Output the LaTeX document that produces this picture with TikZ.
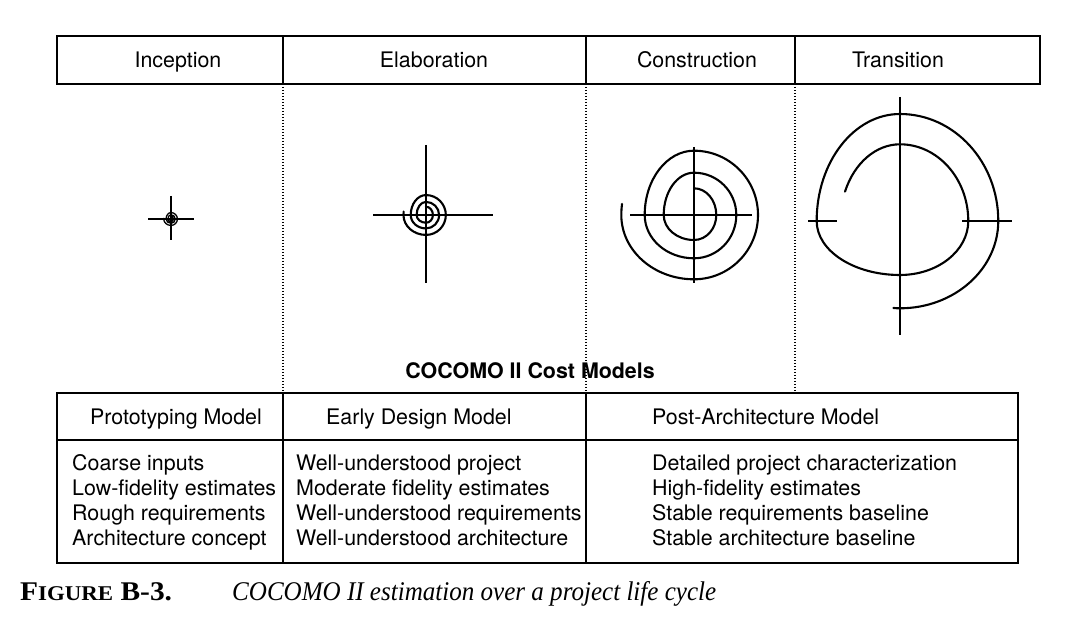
\documentclass[tikz,border=0pt]{standalone}
\usepackage{fontspec}
\setmainfont{TeX Gyre Heros}
\newfontfamily\capfont{Liberation Serif}
\newcommand{\cocspiral}{(0,-26.7)
  arc[start angle=90,end angle=0,x radius=22.3pt,y radius=26.7pt]
  arc[start angle=0,end angle=-90,x radius=22.3pt,y radius=25pt]
  arc[start angle=-90,end angle=-180,x radius=30.3pt,y radius=25pt]
  arc[start angle=180,end angle=90,x radius=30.3pt,y radius=42.3pt]
  arc[start angle=90,end angle=0,x radius=42.3pt,y radius=42.3pt]
  arc[start angle=0,end angle=-90,x radius=42.3pt,y radius=43.3pt]
  arc[start angle=-90,end angle=-180,x radius=49.3pt,y radius=43.3pt]
  arc[start angle=180,end angle=90,x radius=49.3pt,y radius=64.3pt]
  arc[start angle=90,end angle=0,x radius=64pt,y radius=64.3pt]
  arc[start angle=0,end angle=-90,x radius=64pt,y radius=64.3pt]
  arc[start angle=-90,end angle=-180,x radius=72.7pt,y radius=64.3pt]
  arc[start angle=180,end angle=172,x radius=72.7pt,y radius=80pt]}
\begin{document}
\begin{tikzpicture}[x=1pt,y=-1pt,
  frame/.style={line width=1.6pt},
  dotline/.style={line width=1.1pt, dash pattern=on 1.3pt off 1.7pt},
  spiralline/.style={line width=2.1pt, line join=round, line cap=round},
  crossline/.style={line width=1.5pt},
  lbl/.style={font=\fontsize{21.4}{25}\selectfont, inner sep=0pt},
  boldlbl/.style={font=\fontsize{21.4}{25}\selectfont\bfseries, inner sep=0pt},
  captext/.style={font=\fontsize{27}{32}\selectfont\capfont, inner sep=0pt}]
\useasboundingbox (0,0) rectangle (1074,628);
\fill[white] (0,0) rectangle (1074,628);
% top phase box
\draw[frame] (57,36) rectangle (1040,84);
\draw[frame] (283,36) -- (283,84) (586,36) -- (586,84) (795,36) -- (795,84);
\node[lbl, anchor=base] (inc) at (178,68) {Inception};
\node[lbl, anchor=base] (ela) at (434,68) {Elaboration};
\node[lbl, anchor=base] (con) at (697,68) {Construction};
\node[lbl, anchor=base] (tra) at (898,68) {Transition};
% dotted separators
\draw[dotline] (283,84) -- (283,393) (586,84) -- (586,393) (795,84) -- (795,393);
% inception spiral
\draw[crossline] (148,219) -- (194,219) (171,196) -- (171,240);
\begin{scope}[shift={(171,219)}, scale=0.1]
  \draw[line width=1.3pt] \cocspiral;
\end{scope}
% elaboration spiral
\draw[crossline] (373,215) -- (493,215) (426,145) -- (426,283);
\begin{scope}[shift={(426,215)}, scale=0.31]
  \draw[spiralline] \cocspiral;
\end{scope}
% construction spiral
\draw[crossline] (630,215) -- (752,215) (694,147) -- (694,283);
\begin{scope}[shift={(694,215)}]
  \draw[spiralline] \cocspiral;
\end{scope}
% transition spiral
\draw[crossline] (900,97) -- (900,335) (808,221) -- (837,221) (962,221) -- (1012,221);
\begin{scope}[shift={(900,221)}]
  \draw[spiralline] (-55,-29.35)
    arc[start angle=157.5,end angle=90,x radius=59.5pt,y radius=76.7pt]
    arc[start angle=90,end angle=0,x radius=68.3pt,y radius=76.7pt]
    arc[start angle=0,end angle=-90,x radius=68.3pt,y radius=54pt]
    arc[start angle=-90,end angle=-180,x radius=83.3pt,y radius=54pt]
    arc[start angle=180,end angle=90,x radius=83.3pt,y radius=107pt]
    arc[start angle=90,end angle=0,x radius=98.3pt,y radius=107pt]
    arc[start angle=0,end angle=-90,x radius=98.3pt,y radius=87.3pt]
    arc[start angle=-90,end angle=-95,x radius=76pt,y radius=87.3pt];
\end{scope}
\node[boldlbl, anchor=base] (cocomo) at (530,378) {COCOMO II Cost Models};
% bottom model table
\draw[frame] (57,393) rectangle (1018,563);
\draw[frame] (57,440) -- (1018,440) (283,393) -- (283,563) (586,393) -- (586,563);
\node[lbl, anchor=base] (m1) at (176,424) {Prototyping Model};
\node[lbl, anchor=base west] (m2) at (326,424) {Early Design Model};
\node[lbl, anchor=base west] (m3) at (652,424) {Post-Architecture Model};
\node[lbl, anchor=base west] (a1) at (72,470) {Coarse inputs};
\node[lbl, anchor=base west] (a2) at (72,495) {Low-fidelity estimates};
\node[lbl, anchor=base west] (a3) at (72,520) {Rough requirements};
\node[lbl, anchor=base west] (a4) at (72,545) {Architecture concept};
\node[lbl, anchor=base west] (b1) at (296,470) {Well-understood project};
\node[lbl, anchor=base west] (b2) at (296,495) {Moderate fidelity estimates};
\node[lbl, anchor=base west] (b3) at (296,520) {Well-understood requirements};
\node[lbl, anchor=base west] (b4) at (296,545) {Well-understood architecture};
\node[lbl, anchor=base west] (c1) at (652,470) {Detailed project characterization};
\node[lbl, anchor=base west] (c2) at (652,495) {High-fidelity estimates};
\node[lbl, anchor=base west] (c3) at (652,520) {Stable requirements baseline};
\node[lbl, anchor=base west] (c4) at (652,545) {Stable architecture baseline};
% caption
\node[captext, anchor=base west] (fig) at (20,600) {\scalebox{1.09}[1]{\bfseries F{\fontsize{21}{24}\selectfont IGURE} B-3.}};
\node[captext, anchor=base west] (title) at (232,600) {\scalebox{0.928}[1]{\itshape COCOMO II estimation over a project life cycle}};
\end{tikzpicture}
\end{document}
